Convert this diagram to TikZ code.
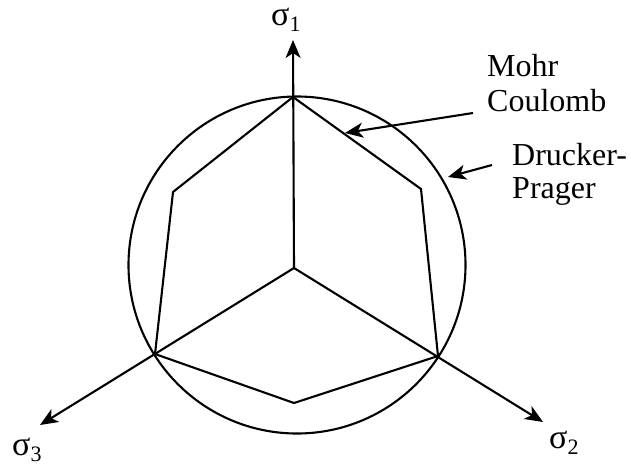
\documentclass[tikz,border=0pt]{standalone}
\usepackage{fontspec}
\setmainfont{Liberation Serif}
\usetikzlibrary{arrows.meta}
\begin{document}
\begin{tikzpicture}[x=1pt,y=-1pt,
  ln/.style={line width=2.1pt,line join=miter},
  axis/.style={ln,-{Stealth[length=18pt,width=15pt,inset=5pt]}},
  lbl/.style={font=\fontsize{32}{36}\selectfont,inner sep=0pt},
  sig/.style={font=\fontsize{34}{36}\selectfont,inner sep=0pt,anchor=base west}]
\useasboundingbox (0,0) rectangle (631,468);
% points
\coordinate (O) at (294,268);
\coordinate (T) at (293,97);
\coordinate (UR) at (421,189);
\coordinate (BR) at (438,356);
\coordinate (B) at (294,403);
\coordinate (BL) at (155,354);
\coordinate (UL) at (173,192);
\coordinate (t1) at (293,40);
\coordinate (t2) at (543,422);
\coordinate (t3) at (40,425);
% circle
\draw[ln] (297,265) circle (168.5);
% hexagon
\draw[ln] (T) -- (UR) -- (BR) -- (B) -- (BL) -- (UL) -- cycle;
% axes
\draw[axis] (O) -- (t1);
\draw[axis] (O) -- (t2);
\draw[axis] (O) -- (t3);
% axis labels
\node[sig] (s1) at (271,26) {σ\textsubscript{\fontsize{22}{24}\selectfont 1}};
\node[sig] (s2) at (549,448) {σ\textsubscript{\fontsize{22}{24}\selectfont 2}};
\node[sig] (s3) at (12,455) {σ\textsubscript{\fontsize{22}{24}\selectfont 3}};
% text labels
\node[lbl,anchor=base west] (mohr) at (487,77) {Mohr};
\node[lbl,anchor=base west] (coul) at (487,112) {Coulomb};
\node[lbl,anchor=base west] (dru) at (512,165) {Drucker-};
\node[lbl,anchor=base west] (prag) at (512,198) {Prager};
% pointers
\coordinate (mc) at (473,113);
\coordinate (dp) at (492,165);
\draw[axis] (mc) -- (345,133);
\draw[axis] (dp) -- (448,177);
\end{tikzpicture}
\end{document}
